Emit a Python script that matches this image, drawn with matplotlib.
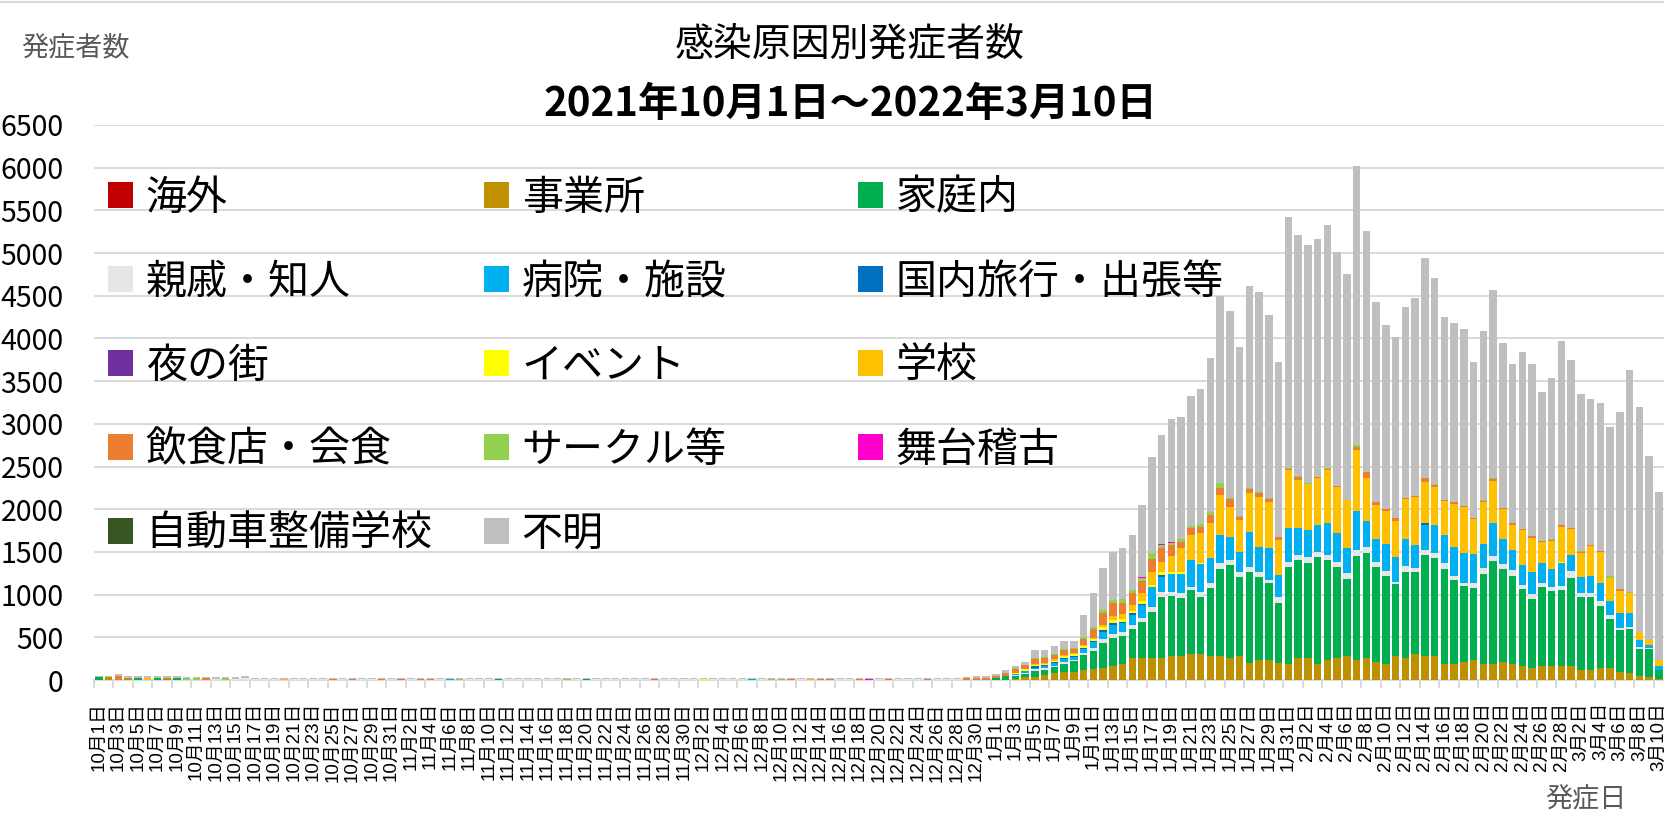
"""
感染原因別発症者数 (2021/10/1 - 2022/3/10) stacked bar chart
"""

import numpy as np
import pandas as pd
import matplotlib
matplotlib.use('Agg')
import matplotlib.pyplot as plt
from matplotlib.lines import Line2D

plt.rcParams['font.family'] = ['Noto Sans CJK JP', 'DejaVu Sans']

W, H = 1665, 813

# Categories in stacking / legend order
categories = ['海外', '事業所', '家庭内', '親戚・知人', '病院・施設', '国内旅行・出張等', '夜の街',
              'イベント', '学校', '飲食店・会食', 'サークル等', '舞台稽古', '自動車整備学校', '不明']
colors = ['#C00000', '#BF9000', '#00B050', '#E7E6E6', '#00B0F0', '#0070C0', '#7030A0',
          '#FFFF00', '#FFC000', '#ED7D31', '#92D050', '#FF00CC', '#375623', '#BFBFBF']

# Oct 1 - Dec 31: daily totals, cases with a known cause and that cause (index into categories)
early_total = [51, 51, 70, 51, 47, 47, 47, 51, 47, 39, 39, 39, 31, 31, 31, 43, 27, 25, 25, 25,
               23, 23, 22, 22, 22, 22, 22, 22, 22, 22, 20,
               22, 20, 22, 22, 20, 22, 22, 18, 20, 18, 20, 18, 18, 20, 18, 20, 18, 20, 18, 20,
               18, 18, 18, 18, 18, 18, 20, 18, 18, 18,
               18, 20, 18, 18, 18, 18, 20, 18, 20, 20, 20, 18, 20, 20, 20, 18, 18, 20, 20, 18,
               20, 18, 18, 18, 20, 18, 20, 24, 31, 51, 51]
early_known = [31, 31, 43, 23, 23, 23, 23, 23, 23, 20, 20, 20, 10, 18, 10, 20, 10, 8, 8, 14,
               8, 8, 8, 8, 14, 8, 14, 8, 10, 12, 8,
               12, 8, 12, 12, 8, 12, 12, 8, 8, 8, 10, 8, 6, 8, 6, 8, 6, 10, 6, 10,
               6, 6, 6, 6, 6, 6, 10, 6, 6, 6,
               6, 10, 6, 6, 6, 6, 10, 6, 10, 10, 10, 6, 10, 10, 10, 6, 6, 10, 10, 6,
               10, 6, 6, 6, 10, 6, 8, 8, 18, 25, 25]
early_cause = [2, 1, 9, 1, 2, 8, 2, 1, 2, 10, 10, 9, 3, 10, 3, 3, 3, 3, 3, 8,
               3, 3, 3, 3, 9, 3, 9, 3, 3, 9, 3,
               9, 3, 9, 9, 3, 4, 10, 3, 3, 3, 2, 3, 3, 3, 3, 3, 3, 10, 3, 2,
               3, 3, 3, 3, 3, 3, 9, 3, 3, 3,
               3, 7, 3, 3, 3, 3, 4, 3, 10, 10, 9, 3, 8, 9, 9, 3, 3, 9, 11, 3,
               9, 3, 3, 3, 9, 3, 3, 3, 9, 9, 9]

# Jan 1 - Mar 10 by cause
jm_jigyosho = [0, 5, 16, 30, 40, 55, 78, 97, 97,
               117, 125, 137, 164, 187, 254, 254, 254, 254, 281,
               281, 300, 300, 281, 281, 254, 281, 203, 234, 234,
               203, 183, 254, 254, 183, 234, 254, 281, 234, 254,
               207, 187, 281, 254, 300, 281, 281, 187, 187, 207,
               234, 187, 187, 207, 187, 164, 137, 164, 164, 164,
               164, 117, 117, 140, 140, 97, 78, 47, 31, 10]
jm_katei = [27, 40, 30, 45, 70, 65, 70, 95, 120,
            170, 220, 300, 330, 330, 340, 420, 546, 722, 703,
            675, 754, 676, 792, 1015, 1093, 929, 1066, 976, 898,
            703, 1144, 1151, 1112, 1261, 1171, 1073, 898, 1218, 1237,
            1112, 1031, 843, 1011, 965, 1182, 1144, 1117, 984, 894,
            847, 1058, 1210, 1093, 1031, 898, 815, 921, 874, 890,
            1030, 859, 859, 724, 577, 488, 519, 319, 329, 107]
jm_shinseki = [0, 5, 10, 10, 15, 15, 15, 20, 20,
               30, 35, 40, 45, 45, 50, 55, 59, 59, 51,
               59, 39, 59, 59, 70, 59, 59, 58, 59, 39,
               70, 59, 59, 78, 59, 59, 58, 70, 70, 70,
               66, 62, 27, 66, 46, 59, 66, 66, 47, 31,
               51, 66, 55, 55, 70, 50, 51, 47, 47, 46,
               78, 47, 39, 59, 50, 28, 27, 16, 11, 0]
jm_byoin = [0, 0, 10, 15, 20, 25, 35, 30, 35,
            45, 60, 90, 110, 105, 120, 150, 226, 176, 207,
            226, 312, 324, 293, 332, 273, 234, 410, 293, 371,
            254, 390, 312, 312, 312, 379, 332, 293, 457, 305,
            262, 312, 285, 324, 266, 293, 324, 324, 343, 359,
            339, 281, 390, 296, 234, 238, 262, 234, 218, 266,
            196, 183, 203, 215, 160, 175, 164, 87, 39, 51]
jm_ryoko = [0, 0, 10, 10, 15, 10, 10, 15, 10,
            15, 15, 15, 15, 10, 15, 15, 0, 20, 0,
            0, 0, 0, 0, 0, 0, 0, 0, 0, 0,
            0, 0, 0, 0, 0, 0, 0, 0, 0, 0,
            0, 0, 0, 0, 0, 27, 0, 0, 0, 0,
            0, 0, 0, 0, 0, 0, 0, 0, 0, 0,
            0, 0, 0, 0, 0, 0, 0, 0, 0, 0]
jm_event = [0, 0, 10, 15, 15, 20, 20, 25, 20,
            20, 25, 35, 35, 40, 30, 30, 27, 39, 27,
            27, 0, 16, 0, 0, 0, 0, 0, 0, 0,
            0, 0, 0, 0, 0, 0, 0, 0, 0, 0,
            0, 0, 0, 0, 0, 0, 0, 0, 0, 0,
            0, 0, 0, 0, 0, 0, 0, 0, 0, 14,
            0, 0, 0, 0, 0, 0, 0, 0, 0, 0]
jm_gakko = [0, 0, 0, 0, 10, 10, 15, 15, 15,
            10, 15, 30, 50, 60, 70, 100, 156, 117, 183,
            273, 293, 351, 418, 468, 351, 371, 449, 585, 546,
            410, 683, 566, 535, 546, 617, 544, 566, 714, 504,
            402, 387, 430, 468, 569, 480, 448, 402, 500, 530,
            418, 496, 487, 351, 293, 402, 398, 246, 324, 411,
            300, 285, 351, 361, 264, 254, 227, 97, 59, 66]
jm_inshoku = [20, 30, 40, 45, 60, 55, 50, 50, 45,
              75, 105, 140, 150, 130, 140, 135, 144, 156, 129,
              78, 78, 70, 90, 78, 85, 40, 50, 45, 35,
              30, 12, 35, 8, 12, 12, 10, 0, 39, 70,
              39, 20, 27, 12, 8, 39, 20, 12, 20, 12,
              12, 12, 20, 16, 20, 20, 20, 20, 12, 20,
              16, 12, 16, 12, 0, 20, 0, 0, 0, 0]
jm_circle = [0, 0, 10, 10, 15, 15, 15, 15, 15,
             18, 20, 33, 38, 38, 35, 40, 70, 39, 27,
             27, 27, 31, 39, 59, 20, 11, 16, 14, 12,
             9, 8, 12, 4, 8, 8, 0, 0, 20, 0,
             0, 7, 0, 0, 0, 0, 8, 0, 7, 4,
             0, 8, 12, 0, 0, 0, 0, 0, 8, 0,
             0, 8, 0, 0, 27, 0, 20, 0, 0, 0]
jm_butai = [0, 0, 0, 0, 0, 0, 0, 0, 0,
            0, 0, 0, 0, 0, 0, 4, 5, 5, 4,
            0, 0, 0, 0, 0, 0, 0, 0, 0, 0,
            0, 0, 0, 0, 0, 0, 0, 0, 0, 0,
            0, 0, 0, 0, 0, 0, 0, 0, 0, 0,
            0, 0, 0, 0, 0, 0, 0, 0, 0, 0,
            0, 0, 0, 0, 0, 0, 0, 0, 0, 0]
jm_fumei = [27, 37, 28, 31, 88, 78, 87, 99, 84,
            262, 395, 495, 558, 597, 644, 843, 1128, 1282, 1441,
            1430, 1526, 1577, 1795, 2197, 2182, 1978, 2362, 2341, 2139,
            2041, 2939, 2822, 2791, 2787, 2848, 2737, 2646, 3267, 2822,
            2342, 2151, 2127, 2229, 2323, 2577, 2416, 2139, 2089, 2073,
            1819, 1979, 2206, 1932, 1862, 2065, 2014, 1744, 1886, 2162,
            1960, 1842, 1702, 1729, 1748, 2080, 2595, 2627, 2154, 1971]

dates = pd.date_range('2021-10-01', '2022-03-10')
labels = [f'{d.month}月{d.day}日' for d in dates]
n = len(dates)
n_early = len(early_total)

# build the (category x day) table
values = np.zeros((len(categories), n))
for i, (t, k, c) in enumerate(zip(early_total, early_known, early_cause)):
    values[c, i] += k
    values[13, i] += t - k
late = {1: jm_jigyosho, 2: jm_katei, 3: jm_shinseki, 4: jm_byoin, 5: jm_ryoko,
        7: jm_event, 8: jm_gakko, 9: jm_inshoku, 10: jm_circle, 11: jm_butai, 13: jm_fumei}
for c, arr in late.items():
    values[c, n_early:] = arr

fig = plt.figure(figsize=(W / 100, H / 100), dpi=100)
ax = fig.add_axes([94 / W, (H - 680) / H, 161 * 9.75 / W, (680 - 125) / H])

x = np.arange(n)
bottom = np.zeros(n)
containers = []
for c in range(len(categories)):
    bars = ax.bar(x, values[c], bottom=bottom, width=0.77, color=colors[c],
                  linewidth=0, label=categories[c], zorder=3)
    containers.append(bars)
    bottom += values[c]

ax.set_xlim(-0.5, n - 0.5)
ax.set_ylim(0, 6500)
ax.set_yticks(range(0, 6501, 500))
ax.grid(axis='y', color='#D9D9D9', linewidth=1.4, zorder=0)
ax.set_axisbelow(True)
for s in ['top', 'right', 'left']:
    ax.spines[s].set_visible(False)
ax.spines['bottom'].set_color('#D9D9D9')
ax.spines['bottom'].set_linewidth(1.4)
ax.tick_params(axis='y', length=0, pad=22, labelsize=20.5)

ax.set_xticks(x[::2])
ax.set_xticklabels(labels[::2], rotation=90, fontsize=13.5,
                   fontfamily=['Liberation Sans', 'Noto Sans CJK JP'])
ax.set_xticks(np.arange(-0.5, n, 2), minor=True)
ax.tick_params(axis='x', which='major', length=0, pad=16)
ax.tick_params(axis='x', which='minor', length=6, width=1.4, color='#D9D9D9')

# legend: 3 columns, filled row by row
cols = [[0, 3, 6, 9, 12], [1, 4, 7, 10, 13], [2, 5, 8, 11]]
col_x = [108, 484, 858]
for cx, idxs in zip(col_x, cols):
    fig.legend([containers[i] for i in idxs], [categories[i] for i in idxs],
               loc='upper left', bbox_to_anchor=(cx / W, 1 - 177.5 / H),
               frameon=False, fontsize=29.5, handlelength=0.6, handleheight=0.6,
               handletextpad=0.32, labelspacing=1.05, borderpad=0, borderaxespad=0)

fig.text(850 / W, 1 - 45 / H, '感染原因別発症者数', ha='center', va='center', fontsize=28)
fig.text(850 / W, 1 - 104 / H, '2021年10月1日～2022年3月10日', ha='center', va='center',
         fontsize=29, fontweight='bold')
fig.text(21 / W, 1 - 48 / H, '発症者数', ha='left', va='center', fontsize=19.5, color='#595959')
fig.text(1545 / W, 1 - 800 / H, '発症日', ha='left', va='center', fontsize=19.5, color='#595959')
fig.add_artist(Line2D([0, 1], [1 - 2 / H, 1 - 2 / H], color='#D9D9D9', linewidth=1.5))

fig.savefig('out.png', dpi=100)
